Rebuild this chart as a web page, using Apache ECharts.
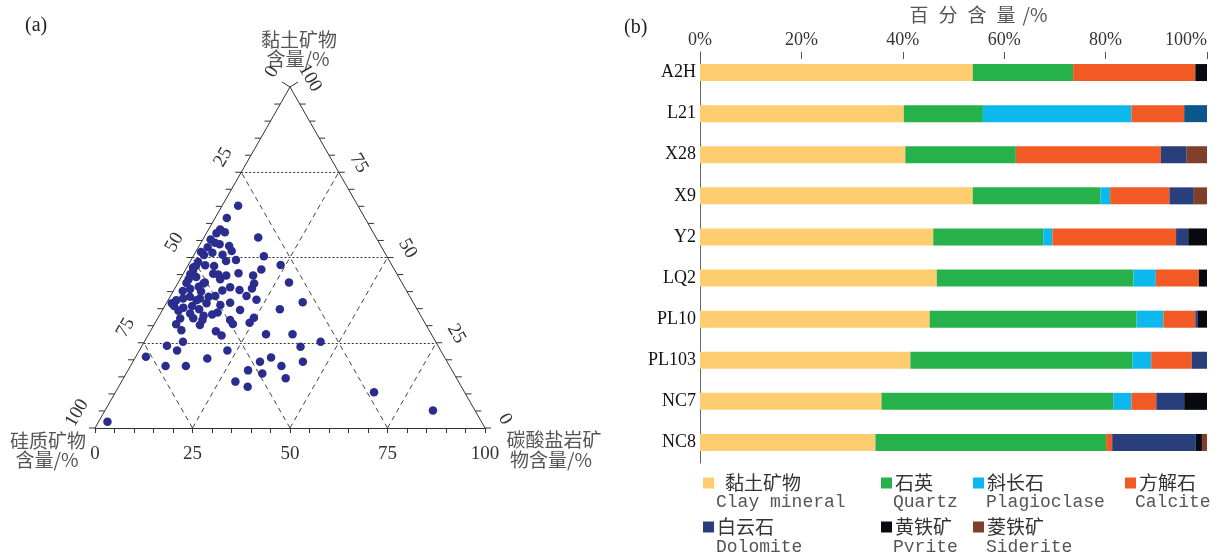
<!DOCTYPE html>
<html><head><meta charset="utf-8">
<script src="https://cdn.jsdelivr.net/npm/echarts@6/dist/echarts.min.js"></script>
<style>html,body{margin:0;padding:0;background:#fff}#c{width:1218px;height:552px}</style>
</head><body><div id="c"></div>
<script>
// ---------- Panel (b): mineral composition (%) ----------
const samples = ['A2H','L21','X28','X9','Y2','LQ2','PL10','PL103','NC7','NC8'];
const clay        = [53.8,40.2,40.5,53.8,46.0,46.7,45.3,41.5,35.8,34.6];
const quartz      = [19.8,15.6,21.8,25.2,21.7,38.8,40.8,43.8,45.7,45.5];
const plagioclase = [0,29.3,0,1.9,1.8,4.4,5.3,3.7,3.6,0];
const calcite     = [24.1,10.4,28.6,11.7,24.4,8.5,6.3,8.0,4.9,1.2];
const dolomite    = [0,4.5,5.1,4.8,2.4,0,0.5,3.0,5.5,16.5];
const pyrite      = [2.3,0,0,0,3.7,1.6,1.8,0,4.5,1.2];
const siderite    = [0,0,4.0,2.6,0,0,0,0,0,1.0];
const mineralNamesCN = ['黏土矿物','石英','斜长石','方解石','白云石','黄铁矿','菱铁矿'];
const mineralNamesEN = ['Clay mineral','Quartz','Plagioclase','Calcite','Dolomite','Pyrite','Siderite'];
const percentTicks = [0,20,40,60,80,100];

// ---------- Panel (a): ternary points ----------
// clay mineral %, carbonate mineral %; siliceous = 100 - clay - carbonate
const ternClay = [65.2,61.6,58.2,57.4,57.1,55.9,55.3,54.3,53.0,53.9,53.4,51.9,51.6,51.4,50.7,50.8,50.4,49.3,49.0,47.5,
  47.7,47.5,47.1,47.8,46.5,45.4,45.2,45.0,44.7,45.1,44.3,43.6,44.7,43.6,42.7,42.4,42.7,40.8,41.4,41.3,
  40.5,40.9,40.2,40.0,40.3,38.7,38.7,38.5,38.0,38.5,37.6,37.5,36.6,36.7,36.9,35.8,35.3,35.8,36.1,34.8,
  34.6,34.8,34.4,33.6,33.3,33.9,32.9,32.1,32.2,32.3,31.7,31.7,30.9,30.5,30.4,30.2,28.7,28.4,27.1,27.5,
  27.5,25.3,24.1,25.3,23.8,22.7,22.7,20.9,20.4,20.7,19.4,19.4,18.2,18.2,18.2,16.9,16.0,14.6,13.6,12.1,
  1.8,10.5,5.1,42.5,42.4,38.0,36.6,37.5,46.0,48.7];
const ternCarb = [4.1,3.0,3.0,4.6,2.6,13.9,2.0,3.6,2.4,5.0,7.7,9.1,1.4,4.4,2.6,7.3,18.1,11.5,9.1,2.1,
  4.4,6.8,1.6,23.7,19.4,14.1,7.7,9.1,11.3,1.9,3.8,2.2,18.2,10.3,6.8,19.6,28.4,4.0,5.9,14.0,
  16.8,19.8,2.4,7.2,12.5,11.5,19.5,5.1,7.9,9.9,22.6,2.1,10.3,16.3,34.8,2.4,5.0,7.0,14.1,9.3,
  19.9,30.0,4.2,7.6,13.4,14.5,11.4,5.8,9.1,24.6,18.8,11.7,24.2,20.1,5.6,11.8,7.8,16.8,18.9,30.1,
  36.9,9.9,6.4,45.2,40.8,9.7,22.6,2.6,18.6,34.8,32.6,43.6,9.0,14.2,38.7,30.8,34.9,41.6,29.2,33.1,
  2.3,66.3,84.1,2.2,6.6,3.6,1.4,7.3,2.1,2.1];
const ternTicks = [0,5,10,15,20,25,30,35,40,45,50,55,60,65,70,75,80,85,90,95,100];
const ternLabels = [0,25,50,75,100];
const ternGridLevels = [25,50,75];

// ternary -> cartesian (x: along base, y: clay)
function tern(c, k){ return [k + c/2, c]; }

const colors = ['#FDCD6F','#27B14B','#0DB9EC','#F15A24','#293F7C','#070A10','#7F3F28'];
const serif = '"Liberation Serif","Times New Roman",serif';
const cjk = '"Noto Sans CJK SC",sans-serif';
const mono = '"Liberation Mono","DejaVu Sans Mono",monospace';

const points = ternClay.map((c,i)=>tern(c, ternCarb[i]));
const dottedLines = ternGridLevels.map(c=>({coords:[tern(c,0), tern(c,100-c)]}));
const dashedLines = [];
ternGridLevels.forEach(v=>{
  dashedLines.push({coords:[tern(0,v), tern(100-v,v)]});       // constant carbonate
  dashedLines.push({coords:[tern(0,100-v), tern(100-v,0)]});   // constant siliceous
});
const edgeLines = [{coords:[tern(0,0), tern(100,0)]},{coords:[tern(0,100), tern(100,0)]}];
const leftTicks = ternTicks.map(s=>{const p=tern(100-s,0);return [p[0],p[1],s];});
const rightTicks = ternTicks.map(c=>{const p=tern(c,100-c);return [p[0],p[1],c];});
const leftLab = ternLabels.map(s=>{const p=tern(100-s,0);return [p[0],p[1],s];});
const rightLab = ternLabels.map(c=>{const p=tern(c,100-c);return [p[0],p[1],c];});

function tickRender(side){
  return function(params, api){
    const p = api.coord([api.value(0), api.value(1)]);
    const v = api.value(2);
    let dx = side*6, dy = 0;
    if ((side<0 && v===0) || (side>0 && v===100)) { dx = side*8; dy = -5; }
    return {type:'line', shape:{x1:p[0],y1:p[1],x2:p[0]+dx,y2:p[1]+dy}, style:{stroke:'#333',lineWidth:1}};
  };
}
function labelRender(side){
  return function(params, api){
    const p = api.coord([api.value(0), api.value(1)]);
    const v = api.value(2);
    const dx = side<0 ? -18 : 20, dy = side<0 ? -15 : -9;
    return {type:'text', x:p[0]+dx, y:p[1]+dy, rotation: side<0 ? Math.PI/3 : -Math.PI/3,
      style:{text:String(v), fill:'#333', fontSize:19, fontFamily:serif, align:'center', verticalAlign:'middle'}};
  };
}

const barSeriesData = [clay, quartz, plagioclase, calcite, dolomite, pyrite, siderite];
const barSeries = barSeriesData.map((arr,i)=>({
  type:'bar', name:mineralNamesCN[i], stack:'total', xAxisIndex:1, yAxisIndex:1,
  barWidth:17, data:arr,
  itemStyle:{color: i===4 ? (p)=> (samples[p.dataIndex]==='L21' ? '#0B578C' : colors[4]) : colors[i]}
}));

const legendPos = [[703,473],[881,473],[973,473],[1125,473],[703,517],[881,517],[973,517]];
const enPos = [[716,502],[893,502],[986,502],[1135,502],[716,547],[893,547],[986,547]];
const legends = mineralNamesCN.map((n,i)=>({
  data:[{name:n, itemStyle:{color:colors[i]}}], left:legendPos[i][0], top:legendPos[i][1], padding:0, itemWidth:11, itemHeight:11,
  icon:'rect', selectedMode:false,
  textStyle:{fontSize:19, fontFamily:cjk, color:'#333', lineHeight:20, padding: i===0?[0,0,0,6]:[0,0,0,-2]}
}));

const graphics = [
  {type:'text', left:25, top:16, style:{text:'(a)', font:'20px '+serif, fill:'#222'}},
  {type:'text', left:624, top:18, style:{text:'(b)', font:'20px '+serif, fill:'#222'}},
  {type:'text', x:299, y:40, style:{text:'黏土矿物', font:'19px '+cjk, fill:'#555', align:'center', verticalAlign:'middle'}},
  {type:'text', x:298, y:59, style:{text:'含量/%', font:'19px '+cjk, fill:'#555', align:'center', verticalAlign:'middle'}},
  {type:'text', x:48, y:441, style:{text:'硅质矿物', font:'19px '+cjk, fill:'#555', align:'center', verticalAlign:'middle'}},
  {type:'text', x:47, y:460, style:{text:'含量/%', font:'19px '+cjk, fill:'#555', align:'center', verticalAlign:'middle'}},
  {type:'text', x:554, y:440, style:{text:'碳酸盐岩矿', font:'19px '+cjk, fill:'#555', align:'center', verticalAlign:'middle'}},
  {type:'text', x:551, y:460, style:{text:'物含量/%', font:'19px '+cjk, fill:'#555', align:'center', verticalAlign:'middle'}}
];
['百','分','含','量','/%'].forEach((ch,i)=>{
  graphics.push({type:'text', x:919+i*29, y:15, style:{text:ch, font:'19px '+cjk, fill:'#555', align:'center', verticalAlign:'middle'}});
});
mineralNamesEN.forEach((t,i)=>{
  graphics.push({type:'text', x:enPos[i][0], y:enPos[i][1], style:{text:t, font:'18px '+mono, fill:'#555', align:'left', verticalAlign:'middle'}});
});

const chart = echarts.init(document.getElementById('c'), null, {renderer:'canvas'});
chart.setOption({
  animation:false,
  backgroundColor:'#fff',
  grid:[
    {left:95, top:87, width:390, height:341},
    {left:700, top:52, width:507, height:411}
  ],
  xAxis:[
    {gridIndex:0, type:'value', min:0, max:100, interval:25,
     axisLine:{show:true, lineStyle:{color:'#333', width:1}},
     axisTick:{show:true, length:5, lineStyle:{color:'#333'}},
     minorTick:{show:true, splitNumber:5, length:5, lineStyle:{color:'#333'}},
     splitLine:{show:false},
     axisLabel:{fontSize:19, fontFamily:serif, color:'#333', margin:17}},
    {gridIndex:1, type:'value', position:'top', min:0, max:100, interval:20,
     axisLine:{show:false},
     axisTick:{show:true, inside:true, length:7, lineStyle:{color:'#555'}},
     splitLine:{show:false},
     axisLabel:{formatter:'{value}%', fontSize:18, fontFamily:serif, color:'#333', margin:3, alignMaxLabel:'right'}}
  ],
  yAxis:[
    {gridIndex:0, type:'value', min:0, max:100, show:false},
    {gridIndex:1, type:'category', data:samples, inverse:true,
     axisLine:{show:true, lineStyle:{color:'#666', width:1}},
     axisTick:{show:false},
     axisLabel:{fontSize:18, fontFamily:serif, color:'#111', margin:4}}
  ],
  legend: legends,
  graphic: graphics,
  series:[
    {type:'lines', coordinateSystem:'cartesian2d', xAxisIndex:0, yAxisIndex:0, data:dottedLines, silent:true,
     lineStyle:{color:'#333', width:1, type:[2,2], opacity:1}},
    {type:'lines', coordinateSystem:'cartesian2d', xAxisIndex:0, yAxisIndex:0, data:dashedLines, silent:true,
     lineStyle:{color:'#444', width:1, type:[5,4], opacity:1}},
    {type:'lines', coordinateSystem:'cartesian2d', xAxisIndex:0, yAxisIndex:0, data:edgeLines, silent:true,
     lineStyle:{color:'#333', width:1, type:'solid', opacity:1}},
    {type:'custom', coordinateSystem:'cartesian2d', xAxisIndex:0, yAxisIndex:0, data:leftTicks, clip:false, silent:true, renderItem:tickRender(-1)},
    {type:'custom', coordinateSystem:'cartesian2d', xAxisIndex:0, yAxisIndex:0, data:rightTicks, clip:false, silent:true, renderItem:tickRender(1)},
    {type:'custom', coordinateSystem:'cartesian2d', xAxisIndex:0, yAxisIndex:0, data:leftLab, clip:false, silent:true, renderItem:labelRender(-1)},
    {type:'custom', coordinateSystem:'cartesian2d', xAxisIndex:0, yAxisIndex:0, data:rightLab, clip:false, silent:true, renderItem:labelRender(1)},
    {type:'scatter', xAxisIndex:0, yAxisIndex:0, data:points, symbolSize:8.5, itemStyle:{color:'#2B2D8E', opacity:1}}
  ].concat(barSeries)
});
</script></body></html>
